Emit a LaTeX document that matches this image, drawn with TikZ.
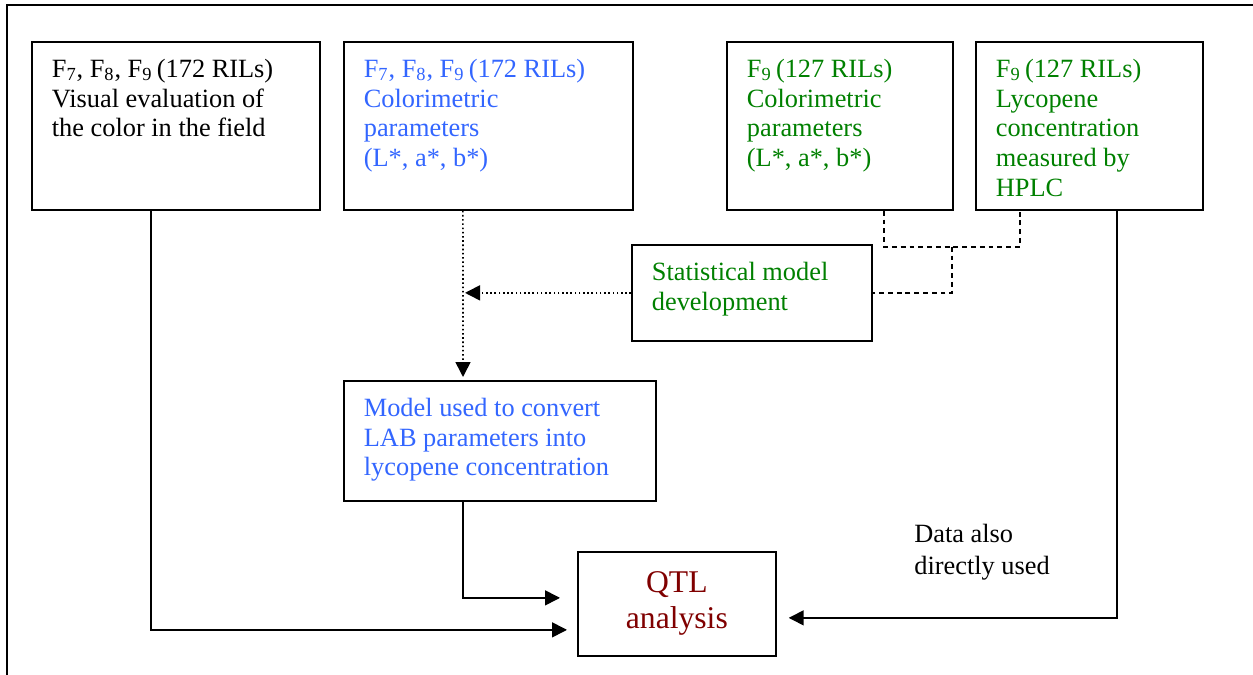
\documentclass[tikz,border=0pt]{standalone}
\usepackage{fontspec}
\setmainfont{Liberation Serif}
\usetikzlibrary{arrows.meta, positioning, calc}
\definecolor{myblue}{RGB}{51,102,255}
\definecolor{mygreen}{RGB}{0,128,0}
\definecolor{mydarkred}{RGB}{128,0,0}
% top aligned text inside a box of fixed size
\newcommand{\stagetext}[3]{\parbox[c][#2][t]{#1}{\raggedright\leftskip=0.4cm\vspace*{0.34cm}#3}}

\begin{document}
\begin{tikzpicture}[x=0.02cm,y=-0.02cm,
    every node/.style={font=\fontsize{15}{17}\selectfont},
    stage/.style={draw,line width=1pt,inner sep=0pt,anchor=north west},
    flow/.style={-{Triangle[length=0.3cm,width=0.3cm]},line width=0.9pt},
    dotline/.style={dash pattern=on 0.9pt off 1.5pt},
    dashline/.style={line width=0.9pt,dash pattern=on 2.8pt off 2.2pt}]
    \useasboundingbox (0,0) rectangle (1253,675);
    % Outer frame
    \draw[line width=1pt] (7,675) -- (7,5) -- (1253,5);
    % Data sources
    \node[stage] (a) at (31,41) {\stagetext{5.76cm}{3.36cm}{F\textsubscript{7}, F\textsubscript{8}, F\textsubscript{9}\,(172 RILs)\\Visual evaluation of\\the color in the field}};
    \node[stage,text=myblue,right=0.445cm of a] (b) {\stagetext{5.78cm}{3.36cm}{F\textsubscript{7}, F\textsubscript{8}, F\textsubscript{9}\,(172 RILs)\\Colorimetric\\parameters\\(L*, a*, b*)}};
    \node[stage,text=mygreen] (c) at (726,41) {\stagetext{4.52cm}{3.36cm}{F\textsubscript{9}\,(127 RILs)\\Colorimetric\\parameters\\(L*, a*, b*)}};
    \node[stage,text=mygreen,right=0.425cm of c] (d) {\stagetext{4.54cm}{3.36cm}{F\textsubscript{9}\,(127 RILs)\\Lycopene\\concentration\\measured by\\HPLC}};
    % Model and analysis
    \node[stage,text=mygreen] (e) at (631,244) {\stagetext{4.80cm}{1.92cm}{Statistical model\\development}};
    \node[stage,text=myblue] (f) at (343,380) {\stagetext{6.24cm}{2.40cm}{Model used to convert\\LAB parameters into\\lycopene concentration}};
    \node[stage,text=mydarkred,align=center,minimum width=3.96cm,minimum height=2.08cm,font=\fontsize{18}{20.5}\selectfont] (g) at (577,551) {QTL\\analysis};
    \node[anchor=north west,inner sep=0pt,align=left,font=\fontsize{15}{18}\selectfont] (note) at (914,524) {Data also\\directly used};
    % Dashed links into the statistical model
    \draw[dashline] ($(c.south west)+(158,0)$) -- ++(0,36) -| ($(d.south west)+(45,0)$);
    \draw[dashline] ($(c.south west)+(226,36)$) |- (e.east);
    % Dotted conversion path
    \coordinate (fin) at ($(f.north west)+(120,0)$);
    \draw[flow,dotline] ($(b.south west)+(120,0)$) -- ($(fin)+(0,-3)$);
    \draw[flow,dotline] (e.west) -- ($(e.west -| fin)+(2,0)$);
    % Arrows into the QTL analysis
    \draw[flow] ($(a.south west)+(120,0)$) |- ($(g.west)+(-10,26)$);
    \draw[flow] ($(f.south west)+(120,0)$) |- ($(g.west)+(-17,-6)$);
    \draw[flow] ($(d.south west)+(142,0)$) |- ($(g.east)+(12,14)$);
\end{tikzpicture}
\end{document}
